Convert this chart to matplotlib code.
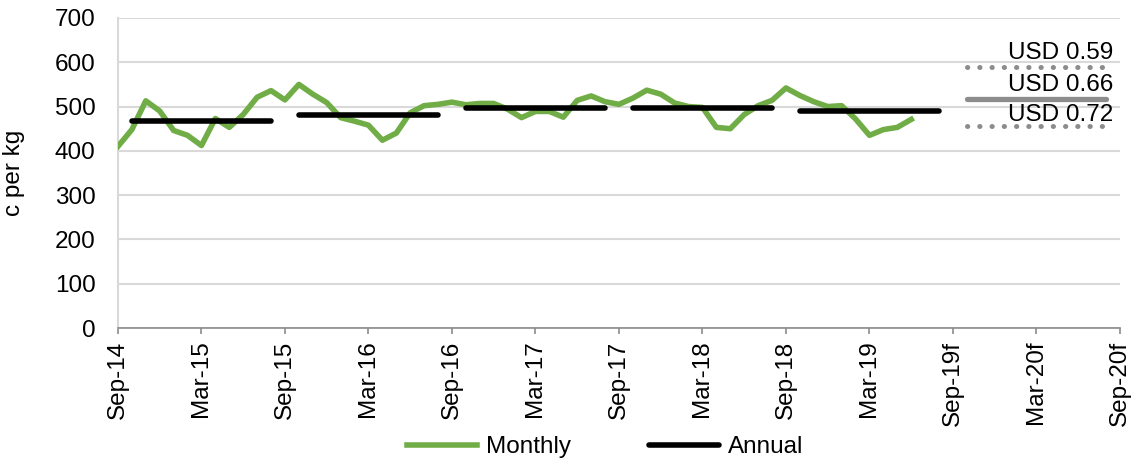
import matplotlib
matplotlib.use("Agg")
import matplotlib.pyplot as plt

plt.rcParams['font.family'] = ['Liberation Sans', 'DejaVu Sans']

# months counted from Sep-14 (0) to Sep-20f (72)
tick_labels = ["Sep-14", "Mar-15", "Sep-15", "Mar-16", "Sep-16", "Mar-17",
               "Sep-17", "Mar-18", "Sep-18", "Mar-19", "Sep-19f", "Mar-20f",
               "Sep-20f"]

monthly = [410, 448, 513, 490, 446, 435, 412, 473, 453, 482, 521, 536,
           515, 550, 528, 509, 475, 467, 458, 424, 440, 486, 502, 505,
           510, 504, 507, 507, 494, 475, 489, 489, 476, 514, 524, 511,
           505, 519, 537, 528, 508, 500, 498, 453, 450, 482, 502, 514,
           542, 525, 511, 500, 502, 472, 435, 448, 453, 471]

annual_start = [1, 13, 25, 37, 49]
annual_end = [11, 23, 35, 47, 59]
annual_vals = [467, 481, 496, 496, 491]

fc_start, fc_end = 61, 71
fc_vals = [590, 517, 455]
fc_labels = ["USD 0.59", "USD 0.66", "USD 0.72"]
fc_label_y = [607, 536, 467]

GREEN = "#70AD47"
GREY = "#8c8c8c"
GRID = "#d9d9d9"
FS = 17.5

fig = plt.figure(figsize=(11.33, 4.61), dpi=100)
ax = fig.add_axes([0.1041, 0.2885, 0.8844, 0.6725])

ax.plot(range(len(monthly)), monthly, color=GREEN, lw=4.0,
        solid_joinstyle='round', label="Monthly", zorder=3)
for i in range(len(annual_vals)):
    ax.plot([annual_start[i], annual_end[i]], [annual_vals[i]] * 2,
            color="black", lw=4.0, solid_capstyle='round',
            label="Annual" if i == 0 else None, zorder=4)

# forecast range
for v, ls in zip(fc_vals, ["dotted", "solid", "dotted"]):
    if ls == "solid":
        ax.plot([fc_start, fc_end], [v, v], color=GREY, lw=3.8,
                solid_capstyle='round', zorder=3)
    else:
        ax.plot([fc_start, fc_end], [v, v], color=GREY, lw=3.6,
                linestyle=(0, (0.05, 2.4)), dash_capstyle='round', zorder=3)
for lab, y in zip(fc_labels, fc_label_y):
    ax.text(71.5, y, lab, ha='right', va='baseline', fontsize=FS, zorder=5)

ax.set_xlim(0, 72)
ax.set_ylim(0, 700)
ax.set_yticks(range(0, 701, 100))
ax.set_xticks(range(0, 73, 6))
ax.set_xticklabels(tick_labels, rotation=90, fontsize=FS)
ax.tick_params(axis='y', length=0, pad=16, labelsize=FS)
ax.tick_params(axis='x', length=4, width=1.2, color=GREY, pad=5)

ax.set_xticks(range(0, 73, 12), minor=True)
ax.grid(False)
ax.yaxis.grid(True, color=GRID, lw=1.5)
ax.xaxis.grid(True, which='minor', color=GRID, lw=1.5)
ax.tick_params(axis='x', which='minor', length=0)
ax.set_axisbelow(True)

for s in ['top', 'right']:
    ax.spines[s].set_visible(False)
ax.spines['left'].set_color(GRID)
ax.spines['left'].set_linewidth(1.5)
ax.spines['bottom'].set_color(GREY)
ax.spines['bottom'].set_linewidth(1.2)

ax.set_ylabel("c per kg", fontsize=FS)
ax.yaxis.set_label_coords(-0.093, 0.5)

ax.legend(loc='center', bbox_to_anchor=(0.486, -0.384), ncol=2,
          frameon=False, fontsize=FS, handlelength=2.9, handletextpad=0.35,
          columnspacing=3.2)

fig.savefig("out.png", dpi=100)
